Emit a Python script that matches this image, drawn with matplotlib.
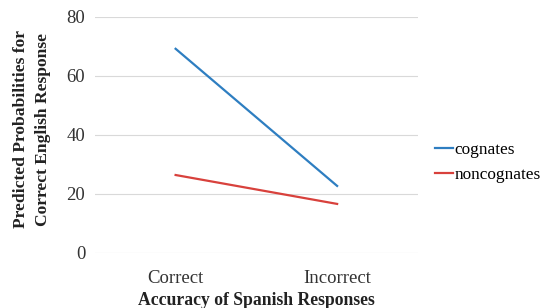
import matplotlib
matplotlib.use("Agg")
import matplotlib.pyplot as plt

categories = ["Correct", "Incorrect"]
cognates = [69.2, 22.7]
noncognates = [26.4, 16.6]

plt.rcParams["font.family"] = ["Liberation Serif", "DejaVu Serif"]

fig = plt.figure(figsize=(5.42, 3.08), dpi=100)
ax = fig.add_axes([0.175, 0.179, 0.596, 0.766])

x = [0, 1]
ax.plot(x, cognates, color="#2e7ec1", lw=1.6, label="cognates")
ax.plot(x, noncognates, color="#d8413c", lw=1.6, label="noncognates")

ax.set_xlim(-0.5, 1.5)
ax.set_ylim(0, 80)
ax.set_yticks([0, 20, 40, 60, 80])
ax.set_xticks(x)
ax.set_xticklabels(categories)
ax.grid(axis="y", color="#d9d9d9", lw=0.8)
ax.set_axisbelow(True)
for s in ax.spines.values():
    s.set_visible(False)
ax.tick_params(length=0, labelsize=13.5, colors="#333333", pad=12)
ax.tick_params(axis="y", pad=7)

ax.set_ylabel("Predicted Probabilities for\nCorrect English Response",
              fontsize=12.6, fontweight="bold", color="#222222",
              linespacing=1.45)
ax.yaxis.set_label_coords(-0.137, 0.525)
ax.set_xlabel("Accuracy of Spanish Responses", fontsize=12.7,
              fontweight="bold", color="#222222", labelpad=4)

ax.legend(loc="center left", bbox_to_anchor=(0.802, 0.472),
          bbox_transform=fig.transFigure, frameon=False, borderpad=0,
          borderaxespad=0, fontsize=12.4, handlelength=1.05,
          handletextpad=0.08, labelspacing=0.5)

fig.savefig("out.png", dpi=100)
